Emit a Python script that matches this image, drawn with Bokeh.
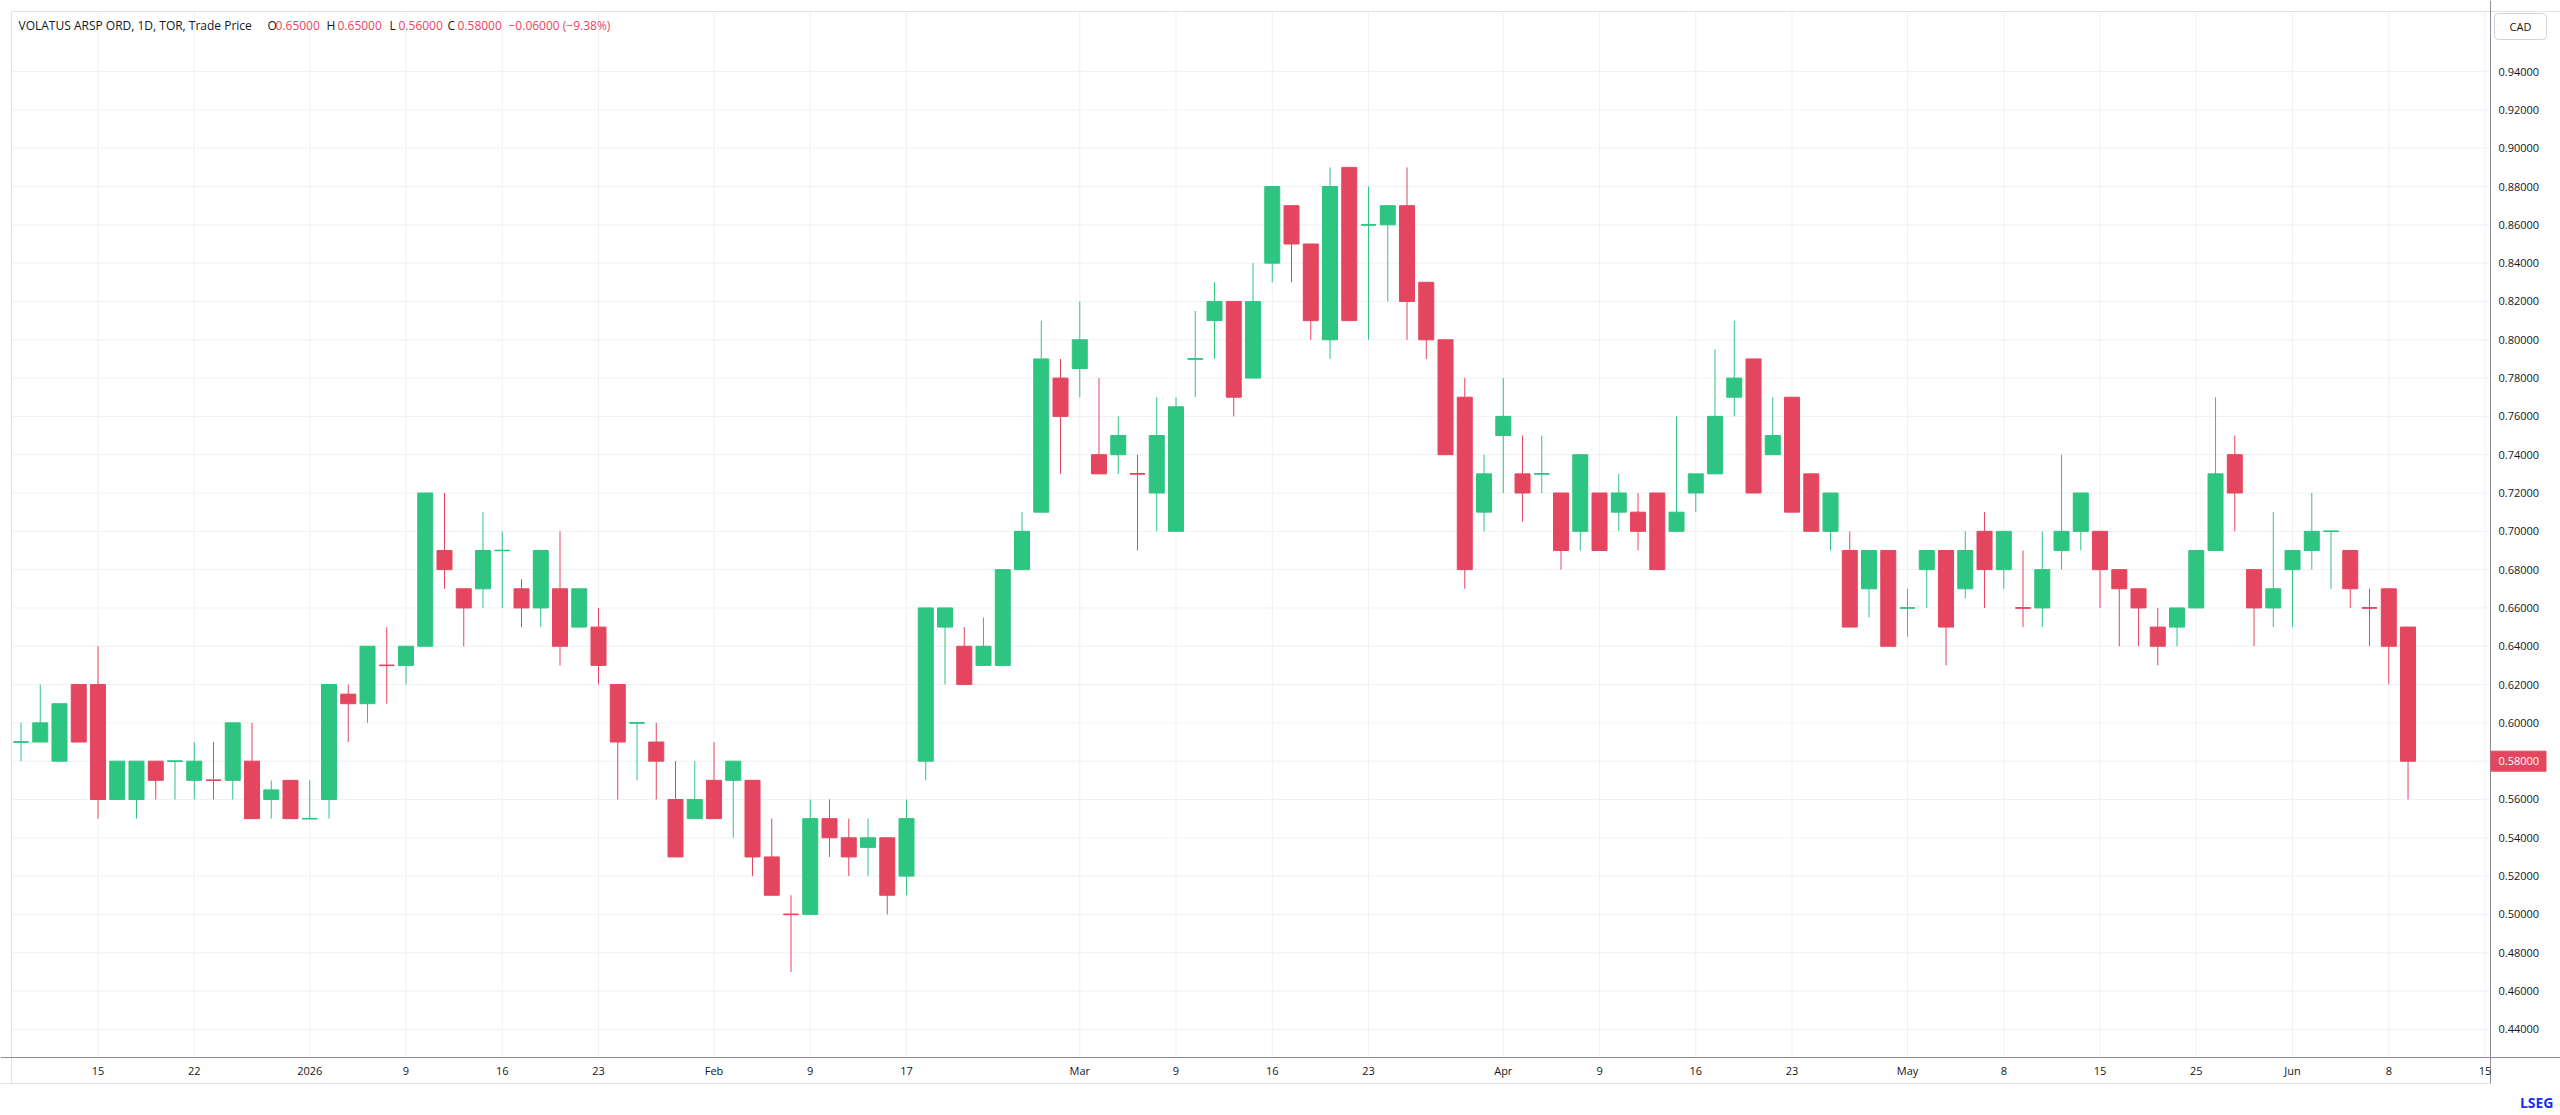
from bokeh.plotting import figure
from bokeh.models import Range1d, ColumnDataSource
from bokeh.core.properties import value
from bokeh.embed import file_html
from bokeh.resources import INLINE

# ---------------- data ----------------
dates = [
    "2025-12-09", "2025-12-10", "2025-12-11", "2025-12-12", "2025-12-15", "2025-12-16", "2025-12-17",
    "2025-12-18", "2025-12-19", "2025-12-22", "2025-12-23", "2025-12-24", "2025-12-29", "2025-12-30",
    "2025-12-31",
    "2026-01-02", "2026-01-05", "2026-01-06", "2026-01-07", "2026-01-08", "2026-01-09", "2026-01-12",
    "2026-01-13", "2026-01-14", "2026-01-15", "2026-01-16", "2026-01-19", "2026-01-20", "2026-01-21",
    "2026-01-22", "2026-01-23", "2026-01-26", "2026-01-27", "2026-01-28", "2026-01-29", "2026-01-30",
    "2026-02-02", "2026-02-03", "2026-02-04", "2026-02-05", "2026-02-06", "2026-02-09", "2026-02-10",
    "2026-02-11", "2026-02-12", "2026-02-13", "2026-02-17", "2026-02-18", "2026-02-19", "2026-02-20",
    "2026-02-23", "2026-02-24", "2026-02-25", "2026-02-26", "2026-02-27",
    "2026-03-02", "2026-03-03", "2026-03-04", "2026-03-05", "2026-03-06", "2026-03-09", "2026-03-10",
    "2026-03-11", "2026-03-12", "2026-03-13", "2026-03-16", "2026-03-17", "2026-03-18", "2026-03-19",
    "2026-03-20", "2026-03-23", "2026-03-24", "2026-03-25", "2026-03-26", "2026-03-27", "2026-03-30",
    "2026-03-31",
    "2026-04-01", "2026-04-02", "2026-04-06", "2026-04-07", "2026-04-08", "2026-04-09", "2026-04-10",
    "2026-04-13", "2026-04-14", "2026-04-15", "2026-04-16", "2026-04-17", "2026-04-20", "2026-04-21",
    "2026-04-22", "2026-04-23", "2026-04-24", "2026-04-27", "2026-04-28", "2026-04-29", "2026-04-30",
    "2026-05-01", "2026-05-04", "2026-05-05", "2026-05-06", "2026-05-07", "2026-05-08", "2026-05-11",
    "2026-05-12", "2026-05-13", "2026-05-14", "2026-05-15", "2026-05-19", "2026-05-20", "2026-05-21",
    "2026-05-22", "2026-05-25", "2026-05-26", "2026-05-27", "2026-05-28", "2026-05-29",
    "2026-06-01", "2026-06-02", "2026-06-03", "2026-06-04", "2026-06-05", "2026-06-08", "2026-06-09",
]
future_dates = ["2026-06-10", "2026-06-11", "2026-06-12", "2026-06-15"]

opens = [
    0.59, 0.59, 0.58, 0.62, 0.62, 0.56, 0.56, 0.58, 0.58, 0.57, 0.57, 0.57, 0.58, 0.56, 0.57,
    0.55, 0.56, 0.615, 0.61, 0.63, 0.63, 0.64, 0.69, 0.67, 0.67, 0.69, 0.67, 0.66, 0.67, 0.65,
    0.65, 0.62, 0.60, 0.59, 0.56, 0.55,
    0.57, 0.57, 0.57, 0.53, 0.50, 0.50, 0.55, 0.54, 0.535, 0.54, 0.52, 0.58, 0.65, 0.64, 0.63,
    0.63, 0.68, 0.71, 0.78,
    0.785, 0.74, 0.74, 0.73, 0.72, 0.70, 0.79, 0.81, 0.82, 0.78, 0.84, 0.87, 0.85, 0.80, 0.89,
    0.86, 0.86, 0.87, 0.83, 0.80, 0.77, 0.71,
    0.75, 0.73, 0.73, 0.72, 0.70, 0.72, 0.71, 0.71, 0.72, 0.70, 0.72, 0.73, 0.77, 0.79, 0.74,
    0.77, 0.73, 0.70, 0.69, 0.67, 0.69,
    0.66, 0.68, 0.69, 0.67, 0.70, 0.68, 0.66, 0.66, 0.69, 0.70, 0.70, 0.68, 0.67, 0.65, 0.65,
    0.66, 0.69, 0.74, 0.68, 0.66,
    0.68, 0.69, 0.70, 0.69, 0.66, 0.67, 0.65,
]
highs = [
    0.60, 0.62, 0.61, 0.62, 0.64, 0.58, 0.58, 0.58, 0.58, 0.59, 0.59, 0.60, 0.60, 0.57, 0.57,
    0.57, 0.62, 0.62, 0.64, 0.65, 0.64, 0.72, 0.72, 0.67, 0.71, 0.70, 0.675, 0.69, 0.70, 0.67,
    0.66, 0.62, 0.60, 0.60, 0.58, 0.58,
    0.59, 0.58, 0.57, 0.55, 0.51, 0.56, 0.56, 0.55, 0.55, 0.54, 0.56, 0.66, 0.66, 0.65, 0.655,
    0.68, 0.71, 0.81, 0.79,
    0.82, 0.78, 0.76, 0.74, 0.77, 0.77, 0.815, 0.83, 0.82, 0.84, 0.88, 0.87, 0.85, 0.89, 0.89,
    0.88, 0.87, 0.89, 0.83, 0.80, 0.78, 0.74,
    0.78, 0.75, 0.75, 0.72, 0.74, 0.72, 0.73, 0.72, 0.72, 0.76, 0.73, 0.795, 0.81, 0.79, 0.77,
    0.77, 0.73, 0.72, 0.70, 0.69, 0.69,
    0.67, 0.69, 0.69, 0.70, 0.71, 0.70, 0.69, 0.70, 0.74, 0.72, 0.70, 0.68, 0.67, 0.66, 0.66,
    0.69, 0.77, 0.75, 0.68, 0.71,
    0.69, 0.72, 0.70, 0.69, 0.67, 0.67, 0.65,
]
lows = [
    0.58, 0.59, 0.58, 0.59, 0.55, 0.56, 0.55, 0.56, 0.56, 0.56, 0.56, 0.56, 0.55, 0.55, 0.55,
    0.55, 0.55, 0.59, 0.60, 0.61, 0.62, 0.64, 0.67, 0.64, 0.66, 0.66, 0.65, 0.65, 0.63, 0.65,
    0.62, 0.56, 0.57, 0.56, 0.53, 0.55,
    0.55, 0.54, 0.52, 0.51, 0.47, 0.50, 0.53, 0.52, 0.52, 0.50, 0.51, 0.57, 0.62, 0.62, 0.63,
    0.63, 0.68, 0.71, 0.73,
    0.77, 0.73, 0.73, 0.69, 0.70, 0.70, 0.77, 0.79, 0.76, 0.78, 0.83, 0.83, 0.80, 0.79, 0.81,
    0.80, 0.82, 0.80, 0.79, 0.74, 0.67, 0.70,
    0.72, 0.705, 0.72, 0.68, 0.69, 0.69, 0.70, 0.69, 0.68, 0.70, 0.71, 0.73, 0.76, 0.72, 0.74,
    0.71, 0.70, 0.69, 0.65, 0.655, 0.64,
    0.645, 0.66, 0.63, 0.665, 0.66, 0.67, 0.65, 0.65, 0.68, 0.69, 0.66, 0.64, 0.64, 0.63, 0.64,
    0.66, 0.69, 0.70, 0.64, 0.65,
    0.65, 0.68, 0.67, 0.66, 0.64, 0.62, 0.56,
]
closes = [
    0.59, 0.60, 0.61, 0.59, 0.56, 0.58, 0.58, 0.57, 0.58, 0.58, 0.57, 0.60, 0.55, 0.565, 0.55,
    0.55, 0.62, 0.61, 0.64, 0.63, 0.64, 0.72, 0.68, 0.66, 0.69, 0.69, 0.66, 0.69, 0.64, 0.67,
    0.63, 0.59, 0.60, 0.58, 0.53, 0.56,
    0.55, 0.58, 0.53, 0.51, 0.50, 0.55, 0.54, 0.53, 0.54, 0.51, 0.55, 0.66, 0.66, 0.62, 0.64,
    0.68, 0.70, 0.79, 0.76,
    0.80, 0.73, 0.75, 0.73, 0.75, 0.765, 0.79, 0.82, 0.77, 0.82, 0.88, 0.85, 0.81, 0.88, 0.81,
    0.86, 0.87, 0.82, 0.80, 0.74, 0.68, 0.73,
    0.76, 0.72, 0.73, 0.69, 0.74, 0.69, 0.72, 0.70, 0.68, 0.71, 0.73, 0.76, 0.78, 0.72, 0.75,
    0.71, 0.70, 0.72, 0.65, 0.69, 0.64,
    0.66, 0.69, 0.65, 0.69, 0.68, 0.70, 0.66, 0.68, 0.70, 0.72, 0.68, 0.67, 0.66, 0.64, 0.66,
    0.69, 0.73, 0.72, 0.66, 0.67,
    0.69, 0.70, 0.70, 0.67, 0.66, 0.64, 0.58,
]

tick_dates = ["2025-12-15", "2025-12-22", "2026-01-02", "2026-01-09", "2026-01-16", "2026-01-23",
              "2026-02-02", "2026-02-09", "2026-02-17", "2026-03-02", "2026-03-09", "2026-03-16",
              "2026-03-23", "2026-04-01", "2026-04-09", "2026-04-16", "2026-04-23", "2026-05-01",
              "2026-05-08", "2026-05-15", "2026-05-25", "2026-06-01", "2026-06-08", "2026-06-15"]
tick_labels = ["15", "22", "2026", "9", "16", "23", "Feb", "9", "17", "Mar", "9", "16", "23",
               "Apr", "9", "16", "23", "May", "8", "15", "25", "Jun", "8", "15"]
price_ticks = [0.44, 0.46, 0.48, 0.50, 0.52, 0.54, 0.56, 0.58, 0.60, 0.62, 0.64, 0.66, 0.68,
               0.70, 0.72, 0.74, 0.76, 0.78, 0.80, 0.82, 0.84, 0.86, 0.88, 0.90, 0.92, 0.94]

title_text = "VOLATUS ARSP ORD, 1D, TOR, Trade Price"
currency = "CAD"
brand = "LSEG"

# ---------------- styling / layout (pixels) ----------------
W, H = 2560, 1115
UP = "#2DC581"
DOWN = "#E5465F"
TXT = "#131722"
GRID = "#F0F1F4"
BORDER = "#E0E3EB"
AXIS = "#8A8D96"
FONT = "Open Sans"
PANE_L, PANE_T, PANE_R, PANE_B = 11, 11, 2490, 1057
SCALE_B = 1083
BW = 0.78

all_dates = dates + future_dates
idx = list(range(len(dates)))
colors = []
for i in idx:
    o, c = opens[i], closes[i]
    if c > o:
        colors.append(UP)
    elif c < o:
        colors.append(DOWN)
    else:
        prev = closes[i - 1] if i > 0 else c
        colors.append(UP if c >= prev else DOWN)

src = ColumnDataSource(dict(
    x=idx, o=opens, h=highs, l=lows, c=closes,
    top=[max(a, b) for a, b in zip(opens, closes)],
    bottom=[min(a, b) for a, b in zip(opens, closes)],
    color=colors,
))
doji = [i for i in idx if opens[i] == closes[i]]
dsrc = ColumnDataSource(dict(
    x0=[i - BW / 2 for i in doji], x1=[i + BW / 2 for i in doji],
    y=[opens[i] for i in doji], color=[colors[i] for i in doji],
))

p = figure(width=W, height=H,
           x_range=Range1d(-1.065, 131.92), y_range=Range1d(0.39502, 0.97712),
           output_backend="svg", toolbar_location=None,
           x_axis_location=None, y_axis_location=None,
           min_border=0, background_fill_color="white", border_fill_color="white")
p.extra_x_ranges = {"px": Range1d(0, W)}
p.extra_y_ranges = {"py": Range1d(H, 0)}
p.outline_line_color = None
p.xgrid.visible = False
p.ygrid.visible = False

# grid lines (price grid spans the pane, time grid at the date ticks)
tick_pos = [all_dates.index(d) for d in tick_dates]
p.segment(x0=[PANE_L] * len(price_ticks), x1=[PANE_R] * len(price_ticks),
          y0=price_ticks, y1=price_ticks, x_range_name="px", line_color=GRID, line_width=1)
p.segment(x0=tick_pos, x1=tick_pos, y0=[PANE_T] * len(tick_pos), y1=[PANE_B] * len(tick_pos),
          y_range_name="py", line_color=GRID, line_width=1)

# pane borders
p.segment(x0=[PANE_L, PANE_L, 0], x1=[W, PANE_L, PANE_R], y0=[PANE_T, PANE_T, SCALE_B],
          y1=[PANE_T, SCALE_B, SCALE_B], x_range_name="px", y_range_name="py",
          line_color=BORDER, line_width=1)

# candles
p.segment(x0="x", y0="l", x1="x", y1="h", line_color="color", line_width=1, source=src)
p.vbar(x="x", width=BW, top="top", bottom="bottom", fill_color="color",
       line_color="color", line_width=1, source=src)
p.segment(x0="x0", y0="y", x1="x1", y1="y", line_color="color", line_width=1.5, source=dsrc)

# scale lines
p.segment(x0=[PANE_R, 0], x1=[PANE_R, W], y0=[0, PANE_B], y1=[SCALE_B, PANE_B],
          x_range_name="px", y_range_name="py", line_color=AXIS, line_width=1)

# price scale labels
shown = [t for t in price_ticks if abs(t - closes[-1]) > 0.005]
p.text(x=[PANE_R + 8] * len(shown), y=shown, text=[f"{t:.5f}" for t in shown],
       x_range_name="px", text_font=value(FONT), text_font_size=value("11px"),
       text_color=TXT, text_align="left", text_baseline="middle")

# time scale labels
p.text(x=tick_pos, y=[1070] * len(tick_pos), text=tick_labels, y_range_name="py",
       text_font=value(FONT), text_font_size=value("11px"), text_color=TXT,
       text_align="center", text_baseline="middle")

# last price marker
p.rect(x=[PANE_R + 28], y=[closes[-1]], width=[55], height=[20], height_units="screen",
       x_range_name="px", fill_color=DOWN, line_color=DOWN)
p.text(x=[PANE_R + 8], y=[closes[-1]], text=[f"{closes[-1]:.5f}"], x_range_name="px",
       text_font=value(FONT), text_font_size=value("11px"), text_color="white",
       text_align="left", text_baseline="middle")

# currency box
p.quad(left=[PANE_R + 4], right=[PANE_R + 56], top=[13], bottom=[39],
       x_range_name="px", y_range_name="py", fill_color="white", line_color="#D1D4DC",
       border_radius=4)
p.text(x=[PANE_R + 30], y=[26], text=[currency], x_range_name="px", y_range_name="py",
       text_font=value(FONT), text_font_size=value("11px"), text_color=TXT,
       text_align="center", text_baseline="middle")

# header legend
chg = closes[-1] - closes[-2]
pct = chg / closes[-2] * 100
hdr_x = [18, 267, 275, 326, 337, 389, 398, 447, 457, 508]
hdr_t = [title_text, "O", f"{opens[-1]:.5f}", "H", f"{highs[-1]:.5f}", "L", f"{lows[-1]:.5f}",
         "C", f"{closes[-1]:.5f}", f"{chg:+.5f} ({pct:+.2f}%)".replace("-", "\u2212")]
hdr_c = [TXT, TXT, DOWN, TXT, DOWN, TXT, DOWN, TXT, DOWN, DOWN]
p.text(x=hdr_x, y=[25] * len(hdr_x), text=hdr_t, text_color=hdr_c,
       x_range_name="px", y_range_name="py", text_font=value(FONT),
       text_font_size=value("12px"), text_align="left", text_baseline="middle")

# brand mark
p.text(x=[2553], y=[1102], text=[brand], x_range_name="px", y_range_name="py",
       text_font=value(FONT), text_font_size=value("14px"), text_font_style="bold",
       text_color="#1430F0", text_align="right", text_baseline="middle")

open("out.html", "w").write(file_html(p, INLINE))
